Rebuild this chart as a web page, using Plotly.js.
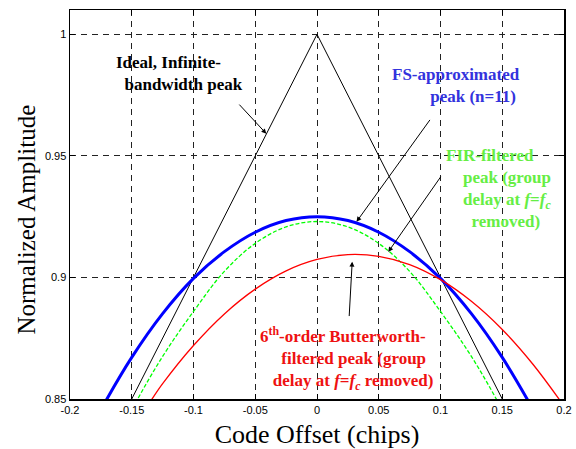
<!DOCTYPE html>
<html>
<head>
<meta charset="utf-8">
<script src="https://cdn.plot.ly/plotly-3.0.1.min.js"></script>
<style>html,body{margin:0;padding:0;background:#fff;}#chart{width:576px;height:449px;}</style>
</head>
<body>
<div id="chart"></div>
<script>
// Code offset (chips)
const xOffset = [-0.2, -0.175, -0.15, -0.125, -0.1, -0.075, -0.05, -0.025, 0, 0.025, 0.05, 0.075, 0.1, 0.125, 0.15, 0.175, 0.2];
// Ideal, infinite-bandwidth peak (triangle)
const xIdeal = [-0.2, 0, 0.2];
const yIdeal = [0.8, 1.0, 0.8];
// FS-approximated peak (n=11)
const yFS = [0.8216, 0.8456, 0.8671, 0.8851, 0.8996, 0.9106, 0.9186, 0.9234, 0.925, 0.9234, 0.9186, 0.9106, 0.8996, 0.8851, 0.8671, 0.8456, 0.8216];
// FIR-filtered peak
const yFIR = [0.79, 0.82, 0.8455, 0.8675, 0.886, 0.9025, 0.914, 0.9208, 0.923, 0.9208, 0.914, 0.9025, 0.886, 0.8675, 0.8455, 0.82, 0.79];
// 6th-order Butterworth-filtered peak
const yBW = [0.8080, 0.8242, 0.8379, 0.8563, 0.8720, 0.8850, 0.8952, 0.9027, 0.9074, 0.9094, 0.9087, 0.9053, 0.8991, 0.8902, 0.8786, 0.8642, 0.8471];
// tick labels
const xTicks = [-0.2, -0.15, -0.1, -0.05, 0, 0.05, 0.1, 0.15, 0.2];
const xTickText = ['-0.2', '-0.15', '-0.1', '-0.05', '0', '0.05', '0.1', '0.15', '0.2'];
const yTicks = [0.85, 0.9, 0.95, 1];
const yTickText = ['0.85', '0.9', '0.95', '1'];

const traces = [
  {x: xIdeal, y: yIdeal, mode: 'lines', line: {color: '#000000', width: 1}, hoverinfo: 'skip'},
  {x: xOffset, y: yFS, mode: 'lines', line: {color: '#0000ff', width: 3, shape: 'spline'}, hoverinfo: 'skip'},
  {x: xOffset, y: yFIR, mode: 'lines', line: {color: '#00ff00', width: 1.3, dash: '4px,2px', shape: 'spline'}, hoverinfo: 'skip'},
  {x: xOffset, y: yBW, mode: 'lines', line: {color: '#ff0000', width: 1.3, shape: 'spline'}, hoverinfo: 'skip'}
];

const serif = 'Liberation Serif';
const sp = n => '\u00a0'.repeat(n);
function arrow(x, y, ax, ay) {
  return {x: x, y: y, ax: ax, ay: ay, xref: 'x', yref: 'y', axref: 'x', ayref: 'y',
    text: '', showarrow: true, arrowhead: 2, arrowsize: 1, arrowwidth: 1, arrowcolor: '#000', standoff: 0};
}
function label(x, y, text, color) {
  return {x: x, y: y, xref: 'x', yref: 'y', xanchor: 'left', yanchor: 'middle', text: '<b>' + text + '</b>', showarrow: false,
    font: {family: serif, size: 17, color: color}, align: 'left'};
}

const annotations = [
  label(-0.1644, 0.984, 'Ideal, Infinite-<br>' + sp(2) + 'bandwidth peak', '#000000'),
  arrow(-0.041, 0.9591, -0.064, 0.9717),
  label(0.0595, 0.979, 'FS-approximated<br>' + sp(9) + 'peak (n=11)', '#3333dd'),
  arrow(0.032, 0.9229, 0.0923, 0.9654),
  label(0.103, 0.9366, 'FIR-filtered<br>' + sp(4) + 'peak (group<br>' + sp(4) + 'delay at <i>f</i>=<i>f<sub>c</sub></i><br>' + sp(6) + 'removed)', '#66ee44'),
  arrow(0.0577, 0.9105, 0.101, 0.942),
  label(-0.0475, 0.8667, '6<sup>th</sup>-order Butterworth-<br>' + sp(5) + 'filtered peak (group<br>' + sp(3) + 'delay at <i>f</i>=<i>f<sub>c</sub></i> removed)', '#ee1111'),
  arrow(0.0285, 0.9065, 0.026, 0.8835),
  {xref: 'paper', yref: 'paper', x: -0.088, y: 0.46, xanchor: 'center', yanchor: 'middle', textangle: -90,
   text: 'Normalized Amplitude', showarrow: false, font: {family: serif, size: 25, color: '#000'}}
];

const axisCommon = {
  showgrid: true, gridcolor: '#222', griddash: '6px,5px', gridwidth: 1,
  zeroline: false, showline: true, linecolor: '#000', linewidth: 1.5, mirror: 'ticks',
  ticks: 'inside', ticklen: 5, tickcolor: '#000',
  tickfont: {family: 'Liberation Sans', size: 11, color: '#000'}
};

const layout = {
  width: 576, height: 449,
  margin: {l: 70, r: 12, t: 10, b: 50},
  paper_bgcolor: '#fff', plot_bgcolor: '#fff',
  font: {family: serif, color: '#000'},
  showlegend: false,
  xaxis: Object.assign({}, axisCommon, {
    range: [-0.2, 0.2], tickvals: xTicks, ticktext: xTickText,
    title: {text: 'Code Offset (chips)', font: {family: serif, size: 26, color: '#000'}, standoff: 11}
  }),
  yaxis: Object.assign({}, axisCommon, {
    range: [0.85, 1.01], tickvals: yTicks, ticktext: yTickText
  }),
  annotations: annotations
};

Plotly.newPlot('chart', traces, layout, {displayModeBar: false, staticPlot: true});
</script>
</body>
</html>
